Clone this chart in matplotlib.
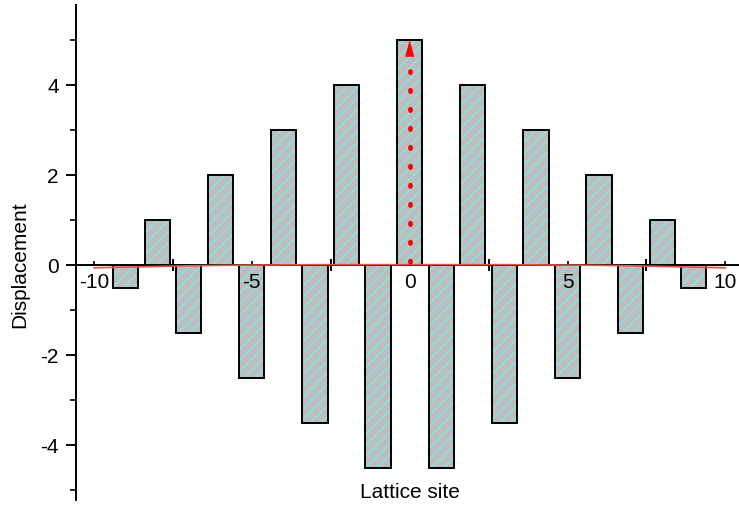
import numpy as np
import matplotlib.pyplot as plt
from matplotlib.ticker import MultipleLocator, FixedLocator

plt.rcParams['font.family'] = ['Liberation Sans', 'DejaVu Sans']
plt.rcParams['font.size'] = 15

# lattice sites and displacement of each site
sites = list(range(-9, 10))
displacement = [-0.5, 1, -1.5, 2, -2.5, 3, -3.5, 4, -4.5, 5,
                -4.5, 4, -3.5, 3, -2.5, 2, -1.5, 1, -0.5]

# smooth envelope close to zero
env_x = list(range(-10, 11))
env_y = [-0.06, -0.045, -0.03, -0.015, -0.005, 0.0, 0.005, 0.01, 0.01, 0.01, 0.01,
         0.01, 0.01, 0.01, 0.005, 0.0, -0.005, -0.015, -0.03, -0.045, -0.06]

bar_width = 0.8
fill_grey = '#bdbdbd'
hatch_cyan = '#7fe9ee'

fig = plt.figure(figsize=(7.39, 5.12), dpi=100)
ax = fig.add_axes([76 / 739, 12 / 512, 1 - 76 / 739 + 0.02, 495 / 512])

ax.bar(sites, displacement, width=bar_width, color=fill_grey,
       hatch='///', edgecolor=hatch_cyan, linewidth=0, zorder=1)
ax.bar(sites, displacement, width=bar_width, fill=False,
       edgecolor='black', linewidth=1.4, zorder=1.2)

ax.plot(env_x, env_y, color='#e8504a', lw=1.2, zorder=2.6)

# dotted arrow on the central site
ax.plot([0, 0], [0.07, 4.32], color='red', lw=3.4, ls=(0, (0.3, 3.72)),
        dash_capstyle='round', zorder=3)
ax.annotate('', xy=(0, 5.0), xytext=(0, 4.6),
            arrowprops=dict(arrowstyle='-|>,head_length=0.8,head_width=0.22',
                            color='red', lw=0, shrinkA=0, shrinkB=0), zorder=3)

ax.set_xlim(-10.57, 10.9)
ax.set_ylim(-5.22, 5.78)

ax.spines['right'].set_visible(False)
ax.spines['top'].set_visible(False)
ax.spines['bottom'].set_position(('data', 0))
ax.spines['left'].set_position(('data', -10.57))
for s in ('left', 'bottom'):
    ax.spines[s].set_linewidth(1.4)
ax.set_axisbelow(False)

ax.xaxis.set_major_locator(FixedLocator([-10, -5, 0, 5, 10]))
ax.xaxis.set_minor_locator(FixedLocator([-7.5, -2.5, 2.5, 7.5]))
ax.set_xticklabels(['-10', '-5', '0', '5', '10'])
ax.tick_params(axis='x', which='major', direction='in', length=3, width=1.2, pad=6)
ax.tick_params(axis='x', which='minor', direction='inout', length=9, width=1.4)

ax.set_yticks([-4, -2, 0, 2, 4])
ax.set_yticklabels(['-4', '-2', '0', '2', '4'])
ax.yaxis.set_minor_locator(FixedLocator([-5, -3, -1, 1, 3, 5]))
ax.tick_params(axis='y', which='major', direction='out', length=7.5, width=1.4, pad=5)
ax.tick_params(axis='y', which='minor', direction='out', length=4, width=1.2)

fig.text(410 / 739, 1 - 493 / 512, 'Lattice site', ha='center', va='center')
fig.text(20 / 739, 1 - 265 / 512, 'Displacement', ha='center', va='center',
         rotation=90)

fig.savefig('out.png', dpi=100)
